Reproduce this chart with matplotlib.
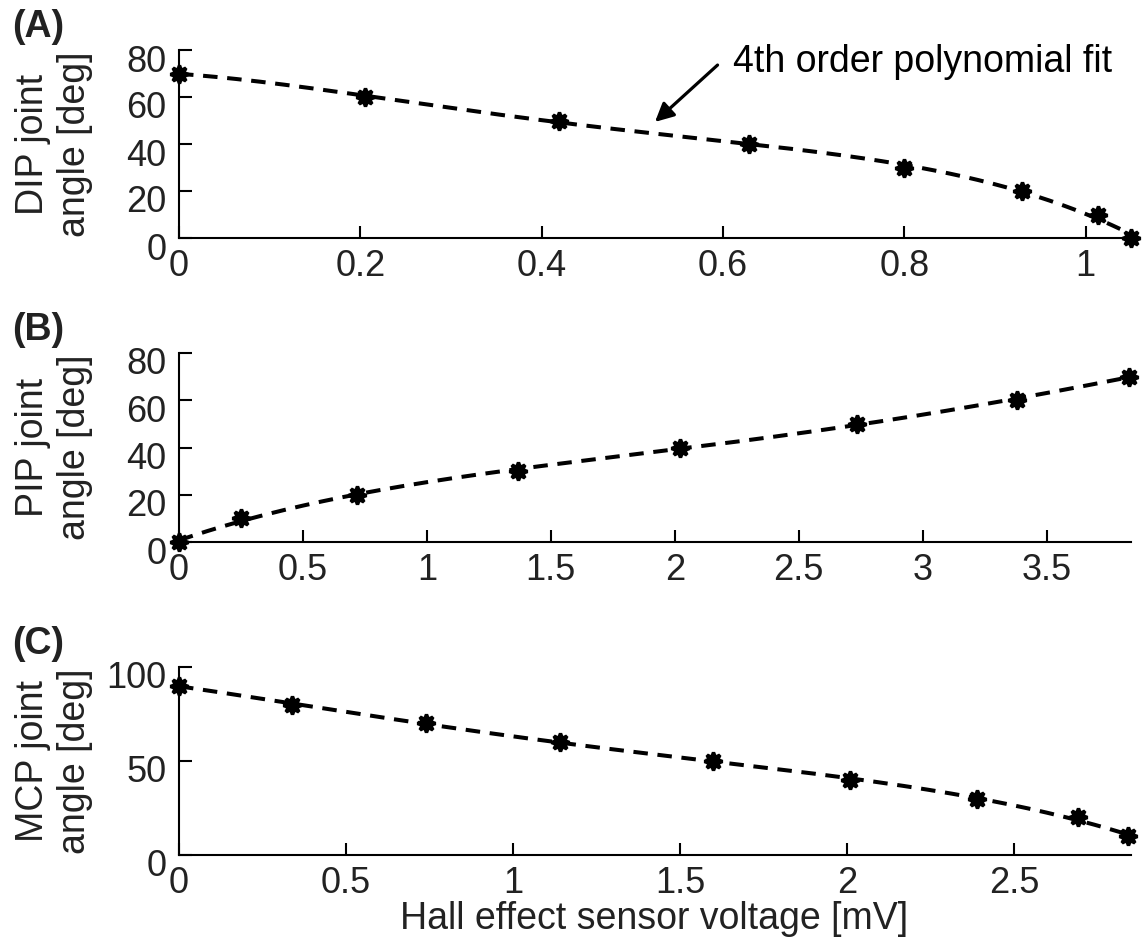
import numpy as np
import matplotlib
matplotlib.use("Agg")
import matplotlib.pyplot as plt
import matplotlib.transforms as mtransforms

plt.rcParams['font.family'] = ['Liberation Sans', 'DejaVu Sans']

# Panel A: DIP
dip_v = [0.0, 0.205, 0.419, 0.629, 0.800, 0.930, 1.014, 1.050]
dip_a = [70, 60, 50, 40, 30, 20, 10, 0]
# Panel B: PIP
pip_v = [0.0, 0.25, 0.718, 1.367, 2.02, 2.734, 3.379, 3.83]
pip_a = [0, 10, 20, 30, 40, 50, 60, 70]
# Panel C: MCP
mcp_v = [0.0, 0.337, 0.74, 1.14, 1.60, 2.01, 2.39, 2.69, 2.84]
mcp_a = [90, 80, 70, 60, 50, 40, 30, 20, 10]

panels = [
    dict(v=dip_v, a=dip_a, label='(A)', ylabel='DIP joint\nangle [deg]',
         xlim=(0, 1.05), ylim=(0, 80), xticks=[0, 0.2, 0.4, 0.6, 0.8, 1],
         xtl=['0', '0.2', '0.4', '0.6', '0.8', '1'], yticks=[0, 20, 40, 60, 80]),
    dict(v=pip_v, a=pip_a, label='(B)', ylabel='PIP joint\nangle [deg]',
         xlim=(0, 3.84), ylim=(0, 80), xticks=[0, 0.5, 1, 1.5, 2, 2.5, 3, 3.5],
         xtl=['0', '0.5', '1', '1.5', '2', '2.5', '3', '3.5'], yticks=[0, 20, 40, 60, 80]),
    dict(v=mcp_v, a=mcp_a, label='(C)', ylabel='MCP joint\nangle [deg]',
         xlim=(0, 2.85), ylim=(0, 100), xticks=[0, 0.5, 1, 1.5, 2, 2.5],
         xtl=['0', '0.5', '1', '1.5', '2', '2.5'], yticks=[0, 50, 100]),
]

W, H = 1143, 951
fig = plt.figure(figsize=(W / 100, H / 100), dpi=100)
boxes = [(50, 238), (353, 542), (667, 855)]
left, right = 179, 1131
fs = 26
tc = '#222222'

for p, (top, bot) in zip(panels, boxes):
    ax = fig.add_axes([left / W, 1 - bot / H, (right - left) / W, (bot - top) / H])
    v = np.array(p['v']); a = np.array(p['a'])
    coef = np.polyfit(v, a, 4)
    xs = np.linspace(v.min(), v.max(), 200)
    ax.plot(xs, np.polyval(coef, xs), '--', color='black', lw=2.9, dashes=(3.6, 2.4),
            clip_on=False, zorder=2)
    ax.plot(v, a, linestyle='none', marker=(8, 1, 0), markersize=13, color='black',
            markeredgewidth=2.5, clip_on=False, zorder=3)
    ax.set_xlim(*p['xlim']); ax.set_ylim(*p['ylim'])
    ax.set_xticks(p['xticks']); ax.set_xticklabels(p['xtl'])
    ax.set_yticks(p['yticks'])
    for s in ['top', 'right']:
        ax.spines[s].set_visible(False)
    for s in ['left', 'bottom']:
        ax.spines[s].set_linewidth(1.5)
    ax.tick_params(direction='in', length=9, width=1.5, labelsize=fs, colors='black',
                   labelcolor=tc)
    ax.tick_params(axis='x', pad=8)
    ax.tick_params(axis='y', pad=9)
    off = mtransforms.ScaledTranslation(0, -8 / 100, fig.dpi_scale_trans)
    for lab in ax.get_yticklabels():
        lab.set_transform(lab.get_transform() + off)
    ax.set_ylabel(p['ylabel'], fontsize=fs + 1, color=tc, linespacing=1.2)
    ax.yaxis.set_label_coords((93 - left) / (right - left), 0.5)
    fig.text(12 / W, 1 - (top - 23) / H, p['label'], fontsize=27, fontweight='bold',
             ha='left', va='center', color=tc)
    if p['label'] == '(A)':
        ax.annotate('', xy=(0.525, 49.4), xytext=(0.594, 73.6),
                    arrowprops=dict(arrowstyle='-|>', color='black', lw=2.3,
                                    mutation_scale=28, shrinkA=0, shrinkB=0))
        ax.text(0.611, 74.9, '4th order polynomial fit', fontsize=fs + 1,
                color='black', ha='left', va='center')

fig.text(654 / W, 1 - 929 / H, 'Hall effect sensor voltage [mV]', fontsize=fs + 1,
         color=tc, ha='center', va='baseline')

fig.savefig('out.png', dpi=100)
